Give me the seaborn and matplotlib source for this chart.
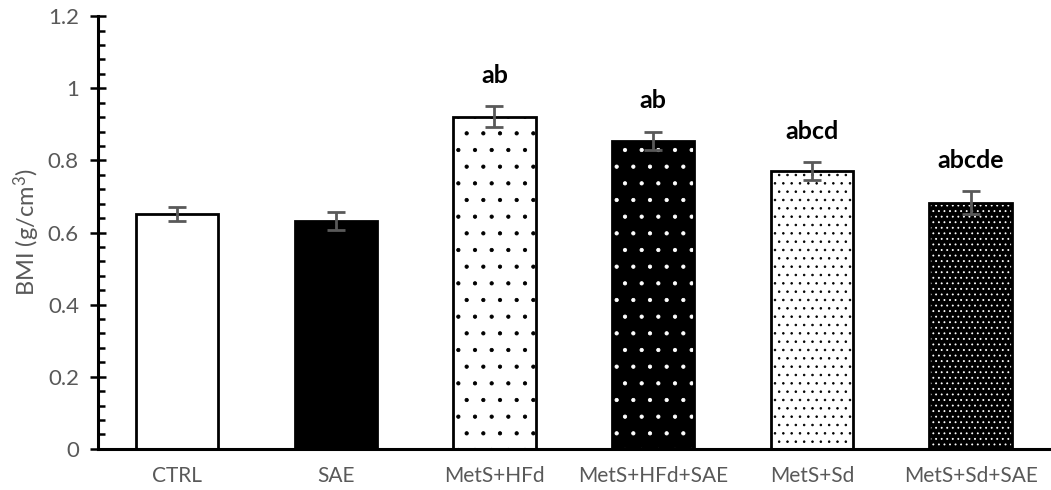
import numpy as np
import pandas as pd
import seaborn as sns
import matplotlib.pyplot as plt
from matplotlib.ticker import MultipleLocator, FuncFormatter

# data
groups = ['CTRL', 'SAE', 'MetS+HFd', 'MetS+HFd+SAE', 'MetS+Sd', 'MetS+Sd+SAE']
bmi = [0.652, 0.633, 0.921, 0.854, 0.771, 0.683]
sem = [0.020, 0.025, 0.029, 0.026, 0.024, 0.031]
letters = ['', '', 'ab', 'ab', 'abcd', 'abcde']

fills = ['white', 'black', 'white', 'black', 'white', 'black']
hatches = ['', '', '.', '.', '..', '...']

df = pd.DataFrame({'group': groups, 'bmi': bmi})

sns.set_style('ticks')
plt.rcParams['font.family'] = ['Lato', 'DejaVu Sans']
plt.rcParams['mathtext.fontset'] = 'custom'
plt.rcParams['mathtext.rm'] = 'Lato'
plt.rcParams['mathtext.default'] = 'rm'
plt.rcParams['hatch.linewidth'] = 0.6

grey = '#595959'

fig, ax = plt.subplots(figsize=(10.51, 4.90), dpi=100)
fig.subplots_adjust(left=0.093, right=0.999, bottom=0.084, top=0.967)

# filled bars with hatching
sns.barplot(data=df, x='group', y='bmi', hue='group', palette=fills, legend=False,
            width=0.52, errorbar=None, linewidth=0, ax=ax)
for patch, h, fc in zip(ax.patches, hatches, fills):
    patch.set_hatch(h)
    patch.set_edgecolor('white' if fc == 'black' else 'black')
    patch.set_linewidth(0)

# black outlines on top
sns.barplot(data=df, x='group', y='bmi', fill=False, color='black', linewidth=2,
            width=0.52, errorbar=None, ax=ax)

# error bars
xpos = np.arange(len(groups))
ax.errorbar(xpos, bmi, yerr=sem, fmt='none', ecolor=grey, elinewidth=2,
            capsize=6.5, capthick=2, zorder=5)

# significance letters
for x, m, e, t in zip(xpos, bmi, sem, letters):
    if t:
        ax.text(x, m + e + 0.085, t, ha='center', va='center',
                fontsize=18, fontweight='bold', color='black')

ax.set_xlim(-0.5, 5.5)
ax.set_ylim(0, 1.2)
ax.yaxis.set_major_locator(MultipleLocator(0.2))
ax.yaxis.set_minor_locator(MultipleLocator(0.04))
ax.yaxis.set_major_formatter(FuncFormatter(lambda v, p: f'{v:g}'))

ax.tick_params(axis='y', which='major', direction='inout', length=11, width=1.8,
               labelsize=16, labelcolor=grey, pad=8, color='black')
ax.tick_params(axis='y', which='minor', direction='in', length=5, width=1.8, color='black')
ax.tick_params(axis='x', length=0, labelsize=15, labelcolor=grey, pad=12)

ax.set_xlabel('')
ax.set_ylabel('BMI (g/cm$^{3}$)', fontsize=17, color=grey, labelpad=4)

sns.despine(ax=ax)
for side in ['left', 'bottom']:
    ax.spines[side].set_linewidth(2.2)
    ax.spines[side].set_color('black')

plt.savefig('out.png', dpi=100)
